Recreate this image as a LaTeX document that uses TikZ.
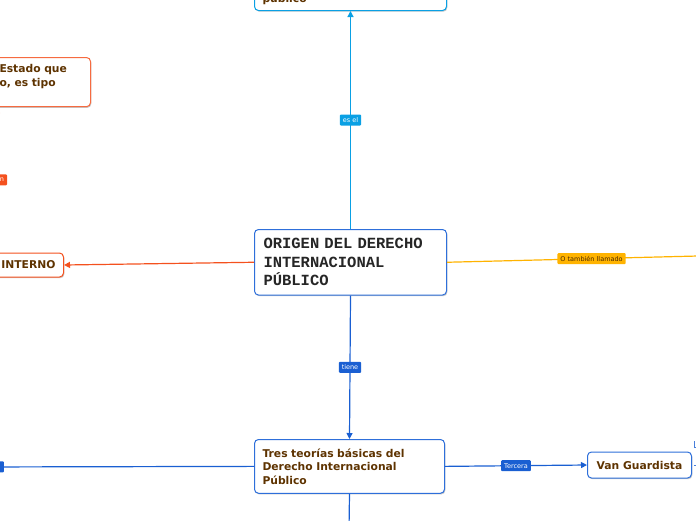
\documentclass[tikz,border=0pt]{standalone}
\usepackage{fontspec}
\setmainfont{DejaVu Sans}
\newfontfamily\monofnt{Liberation Mono}
\usetikzlibrary{arrows.meta,shadows}
\definecolor{txtbrown}{HTML}{5E3300}
\definecolor{lblue}{HTML}{0AA0E4}
\definecolor{dblue}{HTML}{1A5FD2}
\definecolor{boxblue}{HTML}{2E6FDA}
\definecolor{orng}{HTML}{F4511E}
\definecolor{yel}{HTML}{FFB300}
\tikzset{
 topic/.style={draw, line width=1pt, rounded corners=4pt, fill=white, text=txtbrown,
   font=\fontsize{10.75}{13.5}\selectfont\bfseries,
   drop shadow={shadow xshift=0.8pt, shadow yshift=-1.2pt, opacity=0.22, fill=black}},
 lbl/.style={rounded corners=1pt, font=\fontsize{6.5}{7}\selectfont, text=white,
   inner xsep=3pt, inner ysep=0pt, minimum height=11pt},
 conn/.style={line width=1.2pt},
 arrowend/.style={-{Triangle[length=6pt,width=6pt]}}
}
\begin{document}
\begin{tikzpicture}[x=1pt,y=-1pt]
\useasboundingbox (0,0) rectangle (696,520);
% nodes
\node[draw=boxblue, line width=1pt, rounded corners=4pt, fill=white,
  drop shadow={shadow xshift=0.8pt, shadow yshift=-1.2pt, opacity=0.22, fill=black},
  anchor=north west, text width=174pt, inner xsep=9pt, inner ysep=9pt, align=left,
  font=\monofnt\fontsize{15.5}{18.5}\selectfont\bfseries, text=black!85]
  (origen) at (254,229) {ORIGEN DEL DERECHO\\INTERNACIONAL\\PÚBLICO};
\node[topic, draw=lblue, anchor=south west, text width=176pt, inner xsep=8pt,
  inner ysep=6pt, align=left] (publico) at (254,11) {público};
\node[topic, draw=orng, anchor=east, minimum height=24pt, inner xsep=8pt,
  text width=118pt, align=right] (interno) at (64,265) {INTERNO};
\node[topic, draw=orng!85, anchor=north east, text width=83pt, inner xsep=8pt,
  inner ysep=7pt, align=left] (topleft) at (91,57) {Estado que\\o, es tipo\\\mbox{}};
\node[topic, draw=boxblue, anchor=north west, text width=174pt, inner xsep=8pt,
  inner ysep=9pt, align=left] (tres) at (254,439)
  {Tres teorías básicas del\\Derecho Internacional\\Público};
\node[topic, draw=boxblue, anchor=west, minimum height=26pt, minimum width=104pt]
  (vang) at (587,465) {Van Guardista};
% free ends
\coordinate (rightend) at (698,256);
\coordinate (leftend) at (-30,467);
\coordinate (downend) at (349,530);
\coordinate (tlx) at (-3,0);
\coordinate (vgA) at (694,465);
\coordinate (vgAend) at (700,465);
\coordinate (vgB) at (694,441);
\coordinate (vgBend) at (700,447);
% connectors
\draw[conn, lblue, arrowend] (origen.north) -- node[lbl, fill=lblue]{es el} (publico.south);
\draw[conn, dblue, arrowend] (origen.south) -- node[lbl, fill=dblue]{tiene} (tres.north);
\draw[conn, orng, arrowend] (origen.west) -- (interno.east);
\draw[conn, yel] (origen.east) -- node[lbl, fill=yel, text=txtbrown!80!black, pos=0.576]{O también llamado} (rightend);
\draw[conn, dblue, arrowend] (tres.east) -- node[lbl, fill=dblue]{Tercera} (vang.west);
\draw[conn, dblue] (tres.west) -- node[lbl, fill=dblue, pos=0.912, minimum width=18pt]{} (leftend);
\draw[conn, dblue] (tres.south) -- (downend);
\draw[line width=0.8pt, dblue!80] (vgA) -- (vgAend);
\draw[line width=0.8pt, dblue!80] (vgB) |- (vgBend);
\draw[conn, orng, arrowend] (interno.north -| tlx) -- node[lbl, fill=orng, text width=14pt, align=right]{n} (topleft.south -| tlx);
\end{tikzpicture}
\end{document}
